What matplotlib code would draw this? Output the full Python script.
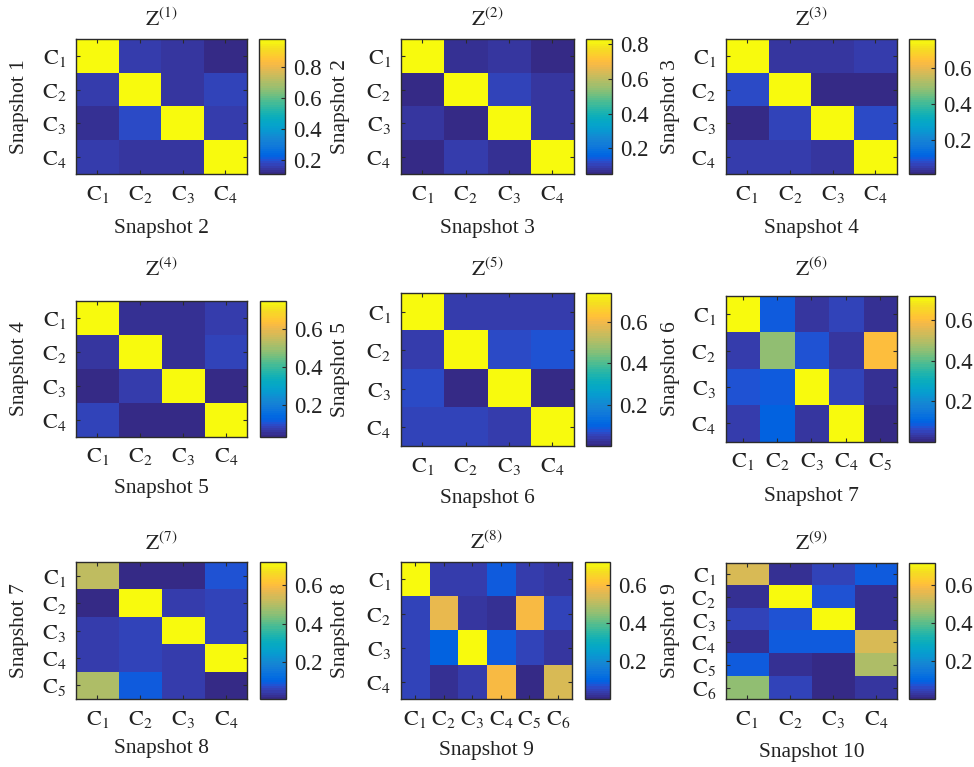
import numpy as np
import matplotlib
matplotlib.use("Agg")
import matplotlib.pyplot as plt
from matplotlib.colors import ListedColormap

plt.rcParams['font.family'] = ['Liberation Serif', 'DejaVu Serif']
plt.rcParams['mathtext.fontset'] = 'stix'

# ---------------- data ----------------
z1 = [[0.98, 0.16, 0.145, 0.11],
      [0.16, 0.98, 0.14, 0.17],
      [0.13, 0.19, 0.98, 0.155],
      [0.155, 0.14, 0.14, 0.98]]
z2 = [[0.83, 0.07, 0.08, 0.055],
      [0.05, 0.83, 0.11, 0.08],
      [0.08, 0.06, 0.83, 0.08],
      [0.06, 0.09, 0.07, 0.83]]
z3 = [[0.76, 0.04, 0.045, 0.05],
      [0.08, 0.76, 0.02, 0.02],
      [0.01, 0.06, 0.76, 0.07],
      [0.05, 0.05, 0.045, 0.76]]
z4 = [[0.75, 0.05, 0.05, 0.07],
      [0.06, 0.75, 0.05, 0.08],
      [0.04, 0.065, 0.75, 0.03],
      [0.085, 0.04, 0.04, 0.75]]
z5 = [[0.74, 0.04, 0.04, 0.035],
      [0.035, 0.74, 0.06, 0.07],
      [0.06, 0.00, 0.74, 0.01],
      [0.05, 0.055, 0.045, 0.74]]
z6 = [[0.72, 0.08, 0.03, 0.05, 0.02],
      [0.04, 0.46, 0.075, 0.03, 0.60],
      [0.075, 0.08, 0.72, 0.045, 0.02],
      [0.04, 0.09, 0.03, 0.72, 0.00]]
z7 = [[0.52, 0.02, 0.02, 0.085],
      [0.02, 0.72, 0.045, 0.055],
      [0.05, 0.055, 0.72, 0.065],
      [0.045, 0.055, 0.05, 0.72],
      [0.49, 0.09, 0.045, 0.01]]
z8 = [[0.72, 0.04, 0.04, 0.085, 0.04, 0.03],
      [0.055, 0.57, 0.03, 0.02, 0.59, 0.045],
      [0.055, 0.09, 0.72, 0.085, 0.05, 0.03],
      [0.045, 0.02, 0.04, 0.59, 0.00, 0.55]]
z9 = [[0.54, 0.02, 0.045, 0.08],
      [0.02, 0.72, 0.07, 0.02],
      [0.05, 0.07, 0.72, 0.02],
      [0.02, 0.08, 0.08, 0.55],
      [0.085, 0.02, 0.01, 0.49],
      [0.46, 0.055, 0.00, 0.03]]
matrices = [z1, z2, z3, z4, z5, z6, z7, z8, z9]
titles = [r'$\mathrm{Z}^{(%d)}$' % k for k in range(1, 10)]
ylabels = ['Snapshot %d' % k for k in range(1, 10)]
xlabels = ['Snapshot %d' % k for k in range(2, 11)]
cbar_ticks = [[0.2, 0.4, 0.6, 0.8], [0.2, 0.4, 0.6, 0.8]] + [[0.2, 0.4, 0.6]] * 7

# ---------------- parula colormap ----------------
parula_data = [
    [0.2081, 0.1663, 0.5292], [0.2116, 0.1898, 0.5777], [0.2123, 0.2138, 0.6270],
    [0.2081, 0.2386, 0.6771], [0.1959, 0.2645, 0.7279], [0.1707, 0.2919, 0.7792],
    [0.1253, 0.3242, 0.8303], [0.0591, 0.3598, 0.8683], [0.0117, 0.3875, 0.8820],
    [0.0060, 0.4086, 0.8828], [0.0165, 0.4266, 0.8786], [0.0329, 0.4430, 0.8720],
    [0.0498, 0.4586, 0.8641], [0.0629, 0.4737, 0.8554], [0.0723, 0.4887, 0.8467],
    [0.0779, 0.5040, 0.8384], [0.0793, 0.5200, 0.8312], [0.0749, 0.5375, 0.8263],
    [0.0641, 0.5570, 0.8240], [0.0488, 0.5772, 0.8228], [0.0343, 0.5966, 0.8199],
    [0.0265, 0.6137, 0.8135], [0.0239, 0.6287, 0.8038], [0.0231, 0.6418, 0.7913],
    [0.0228, 0.6535, 0.7768], [0.0267, 0.6642, 0.7607], [0.0384, 0.6743, 0.7436],
    [0.0590, 0.6838, 0.7254], [0.0843, 0.6928, 0.7062], [0.1133, 0.7015, 0.6859],
    [0.1453, 0.7098, 0.6646], [0.1801, 0.7177, 0.6424], [0.2178, 0.7250, 0.6193],
    [0.2586, 0.7317, 0.5954], [0.3022, 0.7376, 0.5712], [0.3482, 0.7424, 0.5473],
    [0.3953, 0.7459, 0.5244], [0.4420, 0.7481, 0.5033], [0.4871, 0.7491, 0.4840],
    [0.5300, 0.7491, 0.4661], [0.5709, 0.7485, 0.4494], [0.6099, 0.7473, 0.4337],
    [0.6473, 0.7456, 0.4188], [0.6834, 0.7435, 0.4044], [0.7184, 0.7411, 0.3905],
    [0.7525, 0.7384, 0.3768], [0.7858, 0.7356, 0.3633], [0.8185, 0.7327, 0.3498],
    [0.8507, 0.7299, 0.3360], [0.8824, 0.7274, 0.3217], [0.9139, 0.7258, 0.3063],
    [0.9450, 0.7261, 0.2886], [0.9739, 0.7314, 0.2666], [0.9938, 0.7455, 0.2403],
    [0.9990, 0.7653, 0.2164], [0.9955, 0.7861, 0.1967], [0.9880, 0.8066, 0.1794],
    [0.9789, 0.8271, 0.1633], [0.9697, 0.8481, 0.1475], [0.9626, 0.8705, 0.1309],
    [0.9589, 0.8949, 0.1132], [0.9598, 0.9218, 0.0948], [0.9661, 0.9514, 0.0755],
    [0.9763, 0.9831, 0.0538]]
parula = ListedColormap(parula_data, name='parula')

# ---------------- layout (pixels) ----------------
W, H = 974, 767
heat_px = [(76, 39.3, 246.7, 174), (400.7, 39.3, 574, 174), (725.7, 39.3, 896.7, 174),
           (76, 300.7, 247.3, 436.7), (400.7, 292.7, 574, 446), (725.7, 296, 897.3, 441.7),
           (76, 562.3, 247.3, 699), (400.7, 562.3, 572.3, 699.3), (725.7, 562.7, 897.3, 699.3)]
cbar_px = [(259.3, 285), (585.7, 611.7), (908.7, 935),
           (259.7, 286), (585.7, 611), (908.7, 935.3),
           (259.7, 286), (585, 610), (908.7, 935.3)]
title_y = [20, 20, 20, 270, 270, 269, 544, 543, 544]
xlabel_y = [228, 228, 228, 488, 498, 497, 748, 750, 752]
ylabel_x = [20, 340, 670] * 3

fig = plt.figure(figsize=(W / 100, H / 100), dpi=100)
edge = '#2b2b2b'
txt = '#222222'
fs = 15.5

def rect(l, t, r, b):
    return [l / W, 1 - b / H, (r - l) / W, (b - t) / H]

for i, Z in enumerate(matrices):
    Z = np.array(Z, dtype=float)
    nr, nc = Z.shape
    l, t, r, b = heat_px[i]
    ax = fig.add_axes(rect(l, t, r, b))
    im = ax.imshow(Z, cmap=parula, aspect='auto', interpolation='nearest',
                   vmin=Z.min(), vmax=Z.max())
    ax.set_xticks(np.arange(nc))
    ax.set_xticklabels([r'$\mathrm{C}_{%d}$' % (k + 1) for k in range(nc)], fontsize=fs + 0.5)
    ax.set_yticks(np.arange(nr))
    ax.set_yticklabels([r'$\mathrm{C}_{%d}$' % (k + 1) for k in range(nr)], fontsize=fs + 0.5)
    ax.tick_params(direction='in', length=3, width=0.8, color=edge,
                   top=True, right=True, pad=7, labelcolor=txt)
    for s in ax.spines.values():
        s.set_color(edge)
        s.set_linewidth(1.0)
    cx = (l + r) / 2
    fig.text(cx / W, 1 - title_y[i] / H, titles[i], ha='center', va='center',
             fontsize=fs, color=txt)
    fig.text(cx / W, 1 - xlabel_y[i] / H, xlabels[i], ha='center', va='center',
             fontsize=fs, color=txt)
    fig.text(ylabel_x[i] / W, 1 - ((t + b) / 2) / H, ylabels[i], ha='center',
             va='center', rotation=90, fontsize=fs, color=txt)

    cl, cr = cbar_px[i]
    cax = fig.add_axes(rect(cl, t, cr, b))
    cb = fig.colorbar(im, cax=cax)
    cb.set_ticks(cbar_ticks[i])
    cb.ax.set_yticklabels(['%.1f' % v for v in cbar_ticks[i]])
    cax.tick_params(direction='in', length=3, width=0.8, color=edge,
                    labelsize=fs + 1, pad=6, labelcolor=txt)
    cb.outline.set_edgecolor(edge)
    cb.outline.set_linewidth(1.0)

fig.savefig('out.png', dpi=100)
